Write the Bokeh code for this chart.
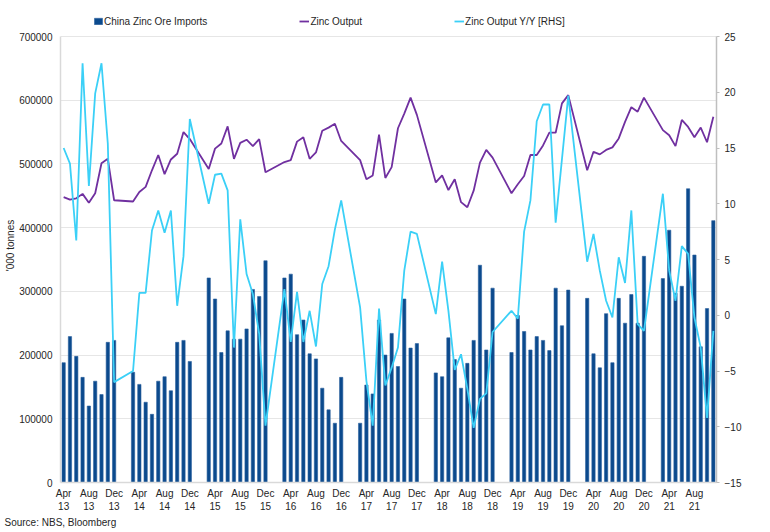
from bokeh.plotting import figure
from bokeh.models import (Range1d, LinearAxis, FixedTicker, Legend, LegendItem,
                          Title, ColumnDataSource, PrintfTickFormatter)
from bokeh.embed import file_html
from bokeh.resources import INLINE

# ---------------- data ----------------
# months that carry data (Jan/Feb are combined in China stats, so absent)
data_months = (
    ["2013-%02d" % m for m in range(4, 13)] +
    ["%d-%02d" % (y, m) for y in range(2014, 2021) for m in range(3, 13)] +
    ["2021-%02d" % m for m in range(3, 12)]
)

# China zinc ore imports ('000 tonnes)
imports_kt = [
    188, 229, 198, 165, 120, 159, 138, 220, 223,
    173, 154, 126, 107, 159, 166, 144, 220, 223, 190,
    321, 288, 204, 238, 225, 225, 241, 303, 292, 348,
    321, 327, 232, 255, 202, 194, 148, 114, 93, 165,
    93, 153, 139, 255, 200, 234, 182, 288, 211, 218,
    172, 166, 227, 193, 148, 187, 223, 341, 208, 305,
    204, 262, 237, 208, 229, 223, 207, 305, 246, 302,
    289, 202, 180, 265, 188, 289, 250, 295, 250, 355,
    320, 396, 297, 308, 461, 357, 213, 273, 411,
]

# Zinc output ('000 tonnes)
output_kt = [
    448, 444, 446, 453, 439, 454, 501, 508, 443,
    441, 456, 464, 490, 514, 484, 507, 516, 550, 539,
    492, 524, 532, 559, 508, 533, 538, 528, 539, 487,
    503, 506, 535, 542, 508, 518, 552, 557, 563, 536,
    506, 476, 482, 546, 478, 495, 556, 579, 604, 577,
    471, 482, 459, 476, 440, 432, 458, 502, 522, 510,
    454, 468, 481, 514, 514, 529, 549, 549, 595, 608,
    490, 519, 515, 522, 526, 540, 566, 589, 582, 604,
    553, 545, 528, 569, 558, 542, 557, 534, 574,
]

# Zinc output Y/Y (%) - right axis
yoy_pct = [
    15.0, 13.6, 6.7, 22.6, 11.6, 19.9, 22.6, 15.4, -6.0,
    -5.0, 2.0, 2.0, 7.6, 9.4, 7.4, 9.4, 0.85, 5.3, 17.6,
    10.0, 12.6, 12.7, 11.2, -2.9, 8.6, 3.7, 1.9, -1.7, -9.9,
    2.35, -2.4, 2.1, -2.4, 0.4, -2.8, 2.8, 4.4, 7.7, 10.3,
    0.7, -5.9, -9.9, 0.6, -6.3, -4.7, -2.9, 4.0, 7.5, 7.3,
    0.1, 4.8, 0.4, -4.9, -3.5, -6.6, -10.1, -7.5, -7.0, -1.5,
    0.4, -0.3, 7.5, 10.3, 17.4, 18.9, 18.9, 8.3, 14.0, 19.7,
    4.8, 7.3, 4.0, 1.3, -0.2, 5.2, 2.9, 9.4, -0.8, -1.4,
    10.9, 4.0, 1.3, 6.2, 5.5, -0.2, -2.9, -9.2, -1.4,
]

tick_month_names = ["Apr", "Aug", "Dec"]
tick_years = ["13", "14", "15", "16", "17", "18", "19", "20", "21"]

# ---------------- build ----------------
def month_index(s):
    y, m = s.split("-")
    return (int(y) - 2013) * 12 + (int(m) - 4)

x = [month_index(s) for s in data_months]
src = ColumnDataSource(dict(
    x=x,
    imports=[v * 1000 for v in imports_kt],
    output=[v * 1000 for v in output_kt],
    yoy=yoy_pct,
))

n_months = month_index("2021-11") + 1
tick_pos, tick_lab = [], []
i = 0
for yy in tick_years:
    for mn in tick_month_names:
        if i < n_months - 1:
            tick_pos.append(i)
            tick_lab.append(mn + "\n" + yy)
        i += 4

FONT = "Liberation Sans"
TXT = "#262626"

# frame: 474 px tall; the axes' 0..700000 span covers the lower 446 px,
# the strip above is kept for the legend
FRAME_H, AXIS_H = 474, 446
L_MIN, L_MAX = 0, 700000
R_MIN, R_MAX = -15, 25
l_top = L_MIN + (L_MAX - L_MIN) * FRAME_H / AXIS_H
r_top = R_MIN + (R_MAX - R_MIN) * FRAME_H / AXIS_H

p = figure(width=754, height=530, output_backend="svg", toolbar_location=None,
           x_range=Range1d(-0.5, n_months - 0.5), y_range=Range1d(L_MIN, l_top),
           min_border_left=60, min_border_right=38, min_border_top=8,
           min_border_bottom=48)
p.outline_line_color = None
p.background_fill_color = "white"

p.extra_y_ranges = {"yy": Range1d(R_MIN, r_top)}

bars = p.vbar(x="x", top="imports", width=0.52, source=src,
              fill_color="#0B4A8D", line_color="#2A5F9E", line_width=0.6)
l_out = p.line("x", "output", source=src, line_color="#7030A0", line_width=1.8)
l_yoy = p.line("x", "yoy", source=src, y_range_name="yy",
               line_color="#3BD0F7", line_width=1.8)

# axes
xa = p.xaxis[0]
xa.ticker = FixedTicker(ticks=tick_pos)
xa.major_label_overrides = {t: l for t, l in zip(tick_pos, tick_lab)}
xa.major_tick_line_color = None
xa.major_tick_out = 0
xa.major_tick_in = 0
xa.minor_tick_line_color = None
xa.axis_line_color = "#D9D9D9"
xa.axis_line_width = 1.5
xa.major_label_text_font = FONT
xa.major_label_text_font_size = "10px"
xa.major_label_text_color = TXT
xa.major_label_standoff = 5

ya = p.yaxis[0]
ya.ticker = FixedTicker(ticks=list(range(L_MIN, L_MAX + 1, 100000)))
ya.bounds = (L_MIN, L_MAX)
ya.formatter = PrintfTickFormatter(format="%d")
ya.major_tick_line_color = None
ya.major_tick_out = 0
ya.major_tick_in = 0
ya.minor_tick_line_color = None
ya.axis_line_color = "#D9D9D9"
ya.axis_line_width = 1.5
ya.major_label_text_font = FONT
ya.major_label_text_font_size = "10px"
ya.major_label_text_color = TXT
ya.major_label_standoff = 8
ya.axis_label = "'000 tonnes"
ya.axis_label_text_font = FONT
ya.axis_label_text_font_size = "10px"
ya.axis_label_text_font_style = "normal"
ya.axis_label_text_color = TXT
ya.axis_label_standoff = 0

ra = LinearAxis(y_range_name="yy", ticker=FixedTicker(ticks=list(range(R_MIN, R_MAX + 1, 5))))
ra.bounds = (R_MIN, R_MAX)
ra.major_tick_out = 3
ra.major_tick_in = 0
ra.major_tick_line_color = "#BFBFBF"
ra.minor_tick_line_color = None
ra.axis_line_color = "#BFBFBF"
ra.axis_line_width = 1.5
ra.major_label_text_font = FONT
ra.major_label_text_font_size = "10px"
ra.major_label_text_color = TXT
ra.major_label_standoff = 5
p.add_layout(ra, "right")

p.xgrid.grid_line_color = None
p.ygrid.grid_line_color = "#E6E6E6"
p.ygrid.grid_line_width = 1
p.ygrid.ticker = ya.ticker

legend = Legend(items=[
    LegendItem(label="China Zinc Ore Imports", renderers=[bars]),
    LegendItem(label="Zinc Output", renderers=[l_out]),
    LegendItem(label="Zinc Output Y/Y [RHS]", renderers=[l_yoy]),
], orientation="horizontal", location=(33, 455), spacing=92,
   glyph_width=10, glyph_height=8, label_standoff=1, padding=0, margin=0,
   label_text_font=FONT, label_text_font_size="10px", label_text_color=TXT,
   border_line_color=None, background_fill_alpha=0, label_height=12)
p.add_layout(legend)

src_title = Title(text="Source: NBS, Bloomberg", align="left", offset=-56,
                  standoff=0, text_font=FONT, text_font_size="10px",
                  text_font_style="normal", text_color=TXT)
p.add_layout(src_title, "below")

open("out.html", "w").write(file_html(p, INLINE))
